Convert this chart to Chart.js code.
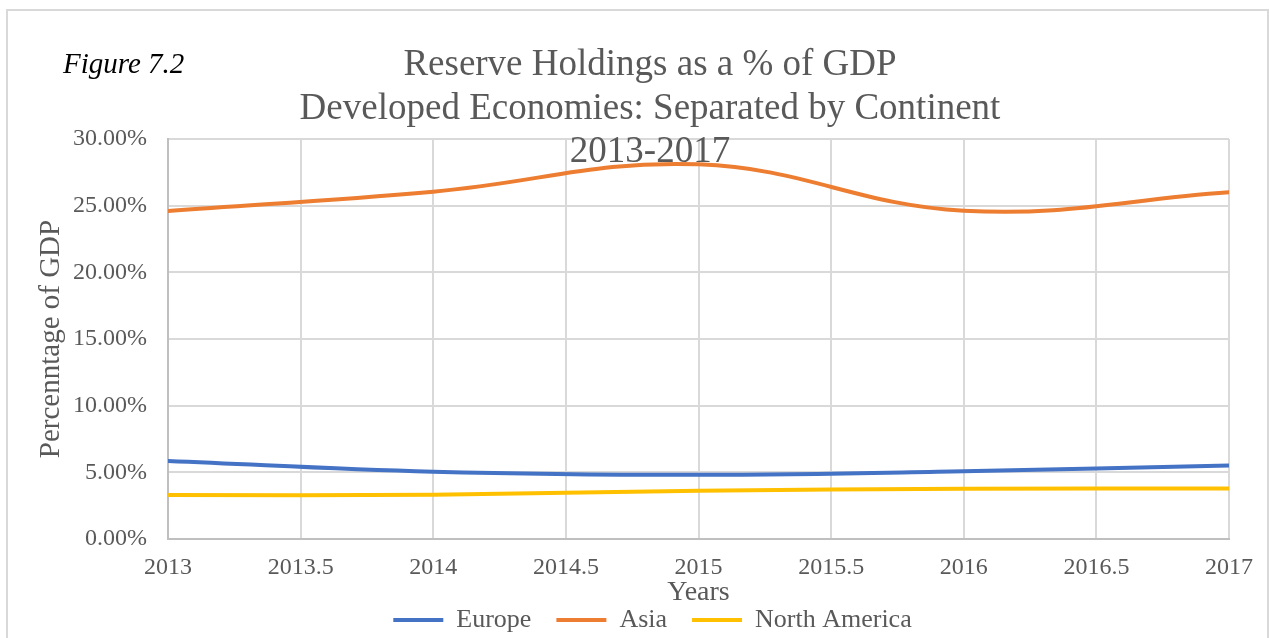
<!DOCTYPE html>
<html>
<head>
<meta charset="utf-8">
<script src="https://cdn.jsdelivr.net/npm/chart.js@4.4.0/dist/chart.umd.min.js"></script>
<style>
  html, body { margin: 0; padding: 0; background: #fff; overflow: hidden; }
  #wrap { position: relative; width: 1269px; height: 643px; }
</style>
</head>
<body>
<div id="wrap"><canvas id="myChart"></canvas></div>
<script>
// values (% of GDP)
const years = [2013, 2014, 2015, 2016, 2017];
const europe = [5.85, 5.05, 4.82, 5.08, 5.52];
const asia = [24.6, 26.05, 28.1, 24.62, 26.0];
const northAmerica = [3.3, 3.32, 3.62, 3.77, 3.79];

const xTicks = [2013, 2013.5, 2014, 2014.5, 2015, 2015.5, 2016, 2016.5, 2017];
const yTicks = [0, 5, 10, 15, 20, 25, 30];

const titleLines = ['Reserve Holdings as a % of GDP', 'Developed Economies: Separated by Continent', '2013-2017'];
const figureLabel = 'Figure 7.2';

const serif = "'Liberation Serif', 'Times New Roman', serif";
const grey = '#595959';

function toPoints(values) {
  return years.map((y, i) => ({ x: y, y: values[i] }));
}

const decorations = {
  id: 'decorations',
  beforeDraw(chart) {
    const ctx = chart.ctx;
    ctx.save();
    ctx.strokeStyle = '#d9d9d9';
    ctx.lineWidth = 2;
    ctx.strokeRect(7, 10, 1261, 660);
    ctx.restore();
  },
  afterLayout(chart) {
    // Excel centres the legend a bit to the right
    chart.legend.left += 34;
    chart.legend.right += 34;
  },
  afterDraw(chart) {
    const ctx = chart.ctx;
    ctx.save();
    ctx.fillStyle = grey;
    ctx.textAlign = 'center';
    ctx.textBaseline = 'alphabetic';
    ctx.font = '37px ' + serif;
    const baselines = [75, 118.5, 162];
    titleLines.forEach((t, i) => ctx.fillText(t, 650, baselines[i]));
    ctx.fillStyle = '#000';
    ctx.textAlign = 'left';
    ctx.font = 'italic 29px ' + serif;
    ctx.fillText(figureLabel, 63, 73);
    ctx.restore();
  }
};

function createChart() {
  const ctx = document.getElementById('myChart').getContext('2d');
  const myChart = new Chart(ctx, {
    type: 'line',
    data: {
      datasets: [
        { label: 'Europe', data: toPoints(europe), borderColor: '#4472C4', backgroundColor: '#4472C4', borderWidth: 4 },
        { label: 'Asia', data: toPoints(asia), borderColor: '#ED7D31', backgroundColor: '#ED7D31', borderWidth: 4 },
        { label: 'North America', data: toPoints(northAmerica), borderColor: '#FFC000', backgroundColor: '#FFC000', borderWidth: 4 }
      ]
    },
    options: {
      responsive: true,
      maintainAspectRatio: false,
      animation: false,
      elements: {
        line: { tension: 0.4, borderCapStyle: 'round' },
        point: { radius: 0, hoverRadius: 0 }
      },
      layout: { padding: { left: 8, top: 139, right: 40, bottom: 0 } },
      plugins: {
        tooltip: { enabled: false },
        legend: {
          position: 'bottom',
          labels: {
            usePointStyle: true,
            pointStyle: 'line',
            pointStyleWidth: 50,
            padding: 25,
            color: grey,
            font: { family: serif, size: 26 }
          }
        }
      },
      scales: {
        x: {
          type: 'linear',
          min: 2013,
          max: 2017,
          afterFit: s => { s.height = 43; },
          afterBuildTicks: s => { s.ticks = xTicks.map(v => ({ value: v })); },
          ticks: {
            color: grey,
            padding: 14,
            maxRotation: 0,
            font: { family: serif, size: 24 },
            callback: v => String(v)
          },
          grid: { color: '#d9d9d9', lineWidth: 2, drawTicks: false },
          border: { color: '#bfbfbf', width: 2 },
          title: {
            display: true,
            text: 'Years',
            color: grey,
            font: { family: serif, size: 28 },
            padding: { top: 0, bottom: -27 }
          }
        },
        y: {
          min: 0,
          max: 30,
          afterFit: s => { s.width = 160; },
          afterBuildTicks: s => { s.ticks = yTicks.map(v => ({ value: v })); },
          ticks: {
            color: grey,
            padding: 21,
            font: { family: serif, size: 24 },
            callback: v => v.toFixed(2) + '%'
          },
          grid: { color: '#d9d9d9', lineWidth: 2, drawTicks: false },
          border: { color: '#bfbfbf', width: 2 },
          title: {
            display: true,
            text: 'Percenntage of GDP',
            color: grey,
            font: { family: serif, size: 29 },
            padding: { top: 26, bottom: 0 }
          }
        }
      }
    },
    plugins: [decorations]
  });
  return myChart;
}

createChart();
</script>
</body>
</html>
